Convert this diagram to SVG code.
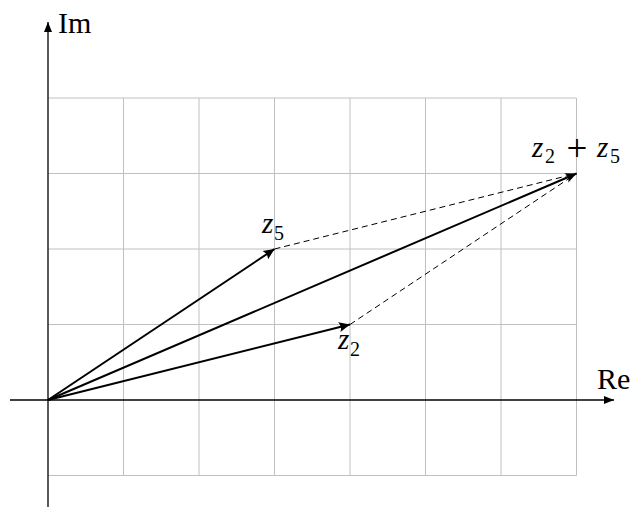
<svg xmlns="http://www.w3.org/2000/svg" width="635" height="508" viewBox="0 0 635 508">
<style>
.grid{stroke:#c0c0c0;stroke-width:1;fill:none}
.axis{stroke:#000;stroke-width:1.3;fill:none}
.vec{stroke:#000;stroke-width:2;fill:none}
.dash{stroke:#000;stroke-width:1;stroke-dasharray:6 4;fill:none}
text{font-family:"Liberation Serif","Times New Roman",serif;fill:#000}
.lbl{font-size:30px}
.m{font-size:29px;font-style:italic}
.s{font-size:20px}
.p{font-size:37px}
</style>
<defs>
<marker id="tri" markerUnits="userSpaceOnUse" markerWidth="12" markerHeight="10" refX="10" refY="5" orient="auto" overflow="visible">
<path d="M0,1 L10,5 L0,9 Z" fill="#000"/>
</marker>
<marker id="stl" markerUnits="userSpaceOnUse" markerWidth="14" markerHeight="12" refX="11" refY="6" orient="auto" overflow="visible">
<path d="M0,1 L11,6 L0,11 Q3,6 0,1 Z" fill="#000"/>
</marker>
</defs>
<g id="grid" class="grid">
<path d="M48,98H576.5M48,173.5H576.5M48,249H576.5M48,324.5H576.5M48,475.5H576.5"/>
<path d="M123.5,98V475.5M199,98V475.5M274.5,98V475.5M350,98V475.5M425.5,98V475.5M501,98V475.5M576.5,98V475.5"/>
</g>
<g id="axes">
<line class="axis" x1="10" y1="400" x2="614" y2="400" marker-end="url(#tri)"/>
<line class="axis" x1="48" y1="507" x2="48" y2="22" marker-end="url(#tri)"/>
<text class="lbl" x="597" y="389">Re</text>
<text class="lbl" x="58" y="33">Im</text>
</g>
<g id="connectors">
<line class="dash" x1="274.5" y1="249" x2="576.5" y2="173.5"/>
<line class="dash" x1="350" y1="324.5" x2="576.5" y2="173.5"/>
<line class="vec" x1="48" y1="400" x2="350" y2="324.5" marker-end="url(#stl)"/>
<line class="vec" x1="48" y1="400" x2="274.5" y2="249" marker-end="url(#stl)"/>
<line class="vec" x1="48" y1="400" x2="576.5" y2="173.5" marker-end="url(#stl)"/>
</g>
<g id="z2">
<text class="m" x="338" y="349">z</text>
<text class="s" x="350" y="356">2</text>
</g>
<g id="z5">
<text class="m" x="262" y="233">z</text>
<text class="s" x="274" y="240">5</text>
</g>
<g id="sum">
<text class="m" x="532" y="157">z</text>
<text class="s" x="545" y="163">2</text>
<text class="p" x="577" y="161" text-anchor="middle">+</text>
<text class="m" x="597" y="157">z</text>
<text class="s" x="610" y="163">5</text>
</g>
</svg>
